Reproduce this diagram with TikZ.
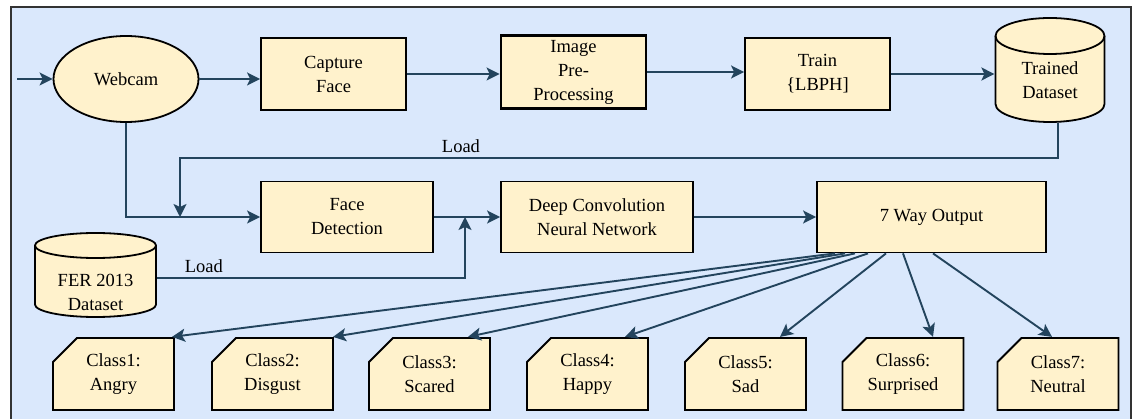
\documentclass[tikz,border=0pt]{standalone}
\usepackage{fontspec}
\setmainfont{Liberation Serif}
\usetikzlibrary{arrows.meta,shapes.geometric}
\definecolor{bgblue}{HTML}{DAE8FC}
\definecolor{boxfill}{HTML}{FFF2CC}
\definecolor{flowcol}{HTML}{23445D}
\tikzset{
  cardpic/.style={path picture={
    \draw[fill=boxfill,line width=1.8pt]
      ([xshift=0.9pt,yshift=-24.9pt]path picture bounding box.north west)
      -- ([xshift=24.9pt,yshift=-0.9pt]path picture bounding box.north west)
      -- ([xshift=-0.9pt,yshift=-0.9pt]path picture bounding box.north east)
      -- ([xshift=-0.9pt,yshift=0.9pt]path picture bounding box.south east)
      -- ([xshift=0.9pt,yshift=0.9pt]path picture bounding box.south west) -- cycle;}},
  drumpic/.style 2 args={path picture={
    \draw[fill=boxfill,line width=1.8pt]
      ([xshift=0.9pt,yshift=-#2-0.9pt]path picture bounding box.north west)
      arc[start angle=180,end angle=0,x radius=#1,y radius=#2]
      -- ([xshift=-0.9pt,yshift=#2+0.9pt]path picture bounding box.south east)
      arc[start angle=0,end angle=-180,x radius=#1,y radius=#2] -- cycle;
    \draw[line width=1.8pt]
      ([xshift=0.9pt,yshift=-#2-0.9pt]path picture bounding box.north west)
      arc[start angle=180,end angle=360,x radius=#1,y radius=#2];}}
}
\begin{document}
\begin{tikzpicture}[x=1pt,y=-1pt,
    every node/.style={font=\fontsize{18.5}{24}\selectfont,align=center,inner sep=0pt},
    blk/.style={rectangle,draw,line width=1.8pt,fill=boxfill},
    cls/.style={rectangle,cardpic,minimum width=122.8pt,minimum height=73.8pt},
    flow/.style={draw=flowcol,line width=1.9pt,-{Stealth[length=13pt,width=13pt,inset=3pt]}}]
  \useasboundingbox (0,0) rectangle (1132,419);
  \draw[fill=bgblue,draw=black!80,line width=1.3pt] (11,7) rectangle (1131,430);

  \path (126,79) node[ellipse,draw,line width=1.8pt,fill=boxfill,minimum width=145pt,minimum height=86pt] (A) {Webcam};
  \path (333.5,74) node[blk,minimum width=145pt,minimum height=72pt] (B) {Capture\\Face};
  \path (573.5,72) node[blk,line width=2.8pt,minimum width=145pt,minimum height=73pt] (C) {Image\\Pre-\\Processing};
  \path (817.5,74) node[blk,minimum width=145pt,minimum height=72pt] (D) {Train\\\{LBPH]};
  \path (1050,70) node[drumpic={54.5pt}{18pt},minimum width=110.8pt,minimum height=105.8pt,
    label={[yshift=-10pt]center:Trained\\Dataset}] (E) {};

  \path (347,217) node[blk,minimum width=172pt,minimum height=71pt] (F) {Face\\Detection};
  \path (597,217) node[blk,minimum width=192pt,minimum height=71pt] (G) {Deep Convolution\\Neural Network};
  \path (931.5,217) node[blk,minimum width=229pt,minimum height=71pt] (H) {7 Way Output};
  \path (95.5,275) node[drumpic={60.5pt}{12.5pt},minimum width=122.8pt,minimum height=85.8pt,
    label={[yshift=-17pt]center:FER 2013\\Dataset}] (I) {};

  \path (113.5,374) node[cls] (K1) {Class1:\\Angry};
  \path (272.5,374) node[cls] (K2) {Class2:\\Disgust};
  \path (429.5,374) node[cls] (K3) {Class3:\\Scared};
  \path (587.5,374) node[cls] (K4) {Class4:\\Happy};
  \path (745.5,374) node[cls] (K5) {Class5:\\Sad};
  \path (903,374) node[cls] (K6) {Class6:\\Surprised};
  \path (1058,374) node[cls] (K7) {Class7:\\Neutral};

  \coordinate (S) at (17,0 |- A.west);
  \coordinate (J) at (180,0 |- F.west);
  \coordinate (M) at (465,0 |- G.west);

  \draw[flow] (S) -- (A.west);
  \draw[flow] (A.east) -- (A.east -| B.west);
  \draw[flow] (B.east) -- (B.east -| C.west);
  \draw[flow] (C.east) -- (C.east -| D.west);
  \draw[flow] (D.east) -- (D.east -| E.west);

  \draw[flow] ([xshift=8pt]E.south) -- ++(0,35) -| node[pos=0.34,above=4pt] {Load} (J);
  \draw[flow] (A.south) |- (F.west);
  \draw[flow] (F.east) -- (G.west);
  \draw[flow] ([yshift=-3pt]I.east) -| node[pos=0.076,above=4pt] {Load} (M);
  \draw[flow] (G.east) -- (H.west);

  \draw[flow] ([xshift=-96.5pt]H.south) -- ([xshift=58.5pt]K1.north);
  \draw[flow] ([xshift=-86.5pt]H.south) -- ([xshift=60.5pt]K2.north);
  \draw[flow] ([xshift=-76.5pt]H.south) -- ([xshift=38.5pt]K3.north);
  \draw[flow] ([xshift=-63.5pt]H.south) -- ([xshift=37.5pt]K4.north);
  \draw[flow] ([xshift=-45.5pt]H.south) -- ([xshift=34.5pt]K5.north);
  \draw[flow] ([xshift=-28.5pt]H.south) -- ([xshift=30pt]K6.north);
  \draw[flow] ([xshift=1.5pt]H.south) -- ([xshift=-6pt]K7.north);
\end{tikzpicture}
\end{document}
